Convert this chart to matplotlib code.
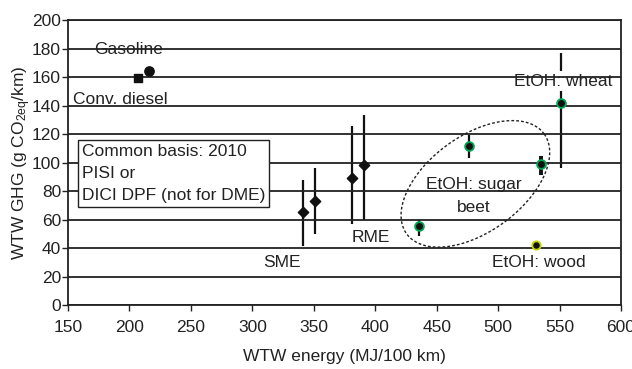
import numpy as np
import matplotlib.pyplot as plt

plt.rcParams['font.family'] = ['Liberation Sans', 'DejaVu Sans']

# diesel / gasoline references
ref_x = [207, 216]
ref_y = [159, 164]

# FAME (SME, RME)
fame_x = [341, 351, 381, 391]
fame_y = [65, 73, 89, 98.5]
fame_lo = [41.5, 50, 57, 60]
fame_hi = [88, 96, 125.5, 133.5]

# ethanol (sugar beet, wheat)
etoh_x = [435.5, 476, 534.5, 551]
etoh_y = [55.5, 111.5, 99, 142]
etoh_lo = [48.5, 103.5, 91, 96]
etoh_hi = [60, 119, 104.5, 177]

wood_x = [530.5]
wood_y = [42]

xticks = np.arange(150, 601, 50)
yticks = np.arange(0, 201, 20)

fig = plt.figure(figsize=(6.32, 3.69), dpi=100)
ax = fig.add_axes([0.1076, 0.1734, 0.875, 0.7724])
ax.set_xlim(150, 600)
ax.set_ylim(0, 200)
ax.set_xticks(xticks)
ax.set_yticks(yticks)
ax.set_axisbelow(False)
ax.yaxis.grid(True, color='#222222', lw=1.3)
for gl in ax.yaxis.get_gridlines():
    gl.set_zorder(2.5)
for s in ax.spines.values():
    s.set_color('#222222')
    s.set_linewidth(1.3)
fs = 12.5
ax.tick_params(direction='out', length=4, width=1, labelsize=fs,
               colors='#222222')
ax.tick_params(axis='y', pad=1)
ax.tick_params(axis='x', pad=7)

ax.scatter(ref_x[:1], ref_y[:1], marker='s', s=40, color='#111111', zorder=4)
ax.scatter(ref_x[1:], ref_y[1:], marker='o', s=45, color='#111111', zorder=4)

ax.vlines(fame_x, fame_lo, fame_hi, color='#111111', lw=1.6, zorder=1)
ax.scatter(fame_x, fame_y, marker='D', s=28, color='#111111', zorder=4)

lw_bars = [1.6, 1.6, 2.8, 1.6]
ax.vlines(etoh_x, etoh_lo, etoh_hi, color='#111111', lw=lw_bars, zorder=1)
ax.scatter(etoh_x, etoh_y, marker='o', s=40, color='#111111',
           edgecolors='#00a651', linewidths=1.3, zorder=4)
ax.scatter(wood_x, wood_y, marker='o', s=36, color='#111111',
           edgecolors='#c4d600', linewidths=1.3, zorder=4)

# dashed ellipse round the sugar beet points (drawn in pixel space)
ppx = 0.875 * 632 / 450.0
ppy = 0.7724 * 369 / 200.0
t = np.linspace(0, 2 * np.pi, 300)
a, b, th = 85, 48, np.radians(36)
ex = 481.5 + (a * np.cos(th) * np.cos(t) - b * np.sin(th) * np.sin(t)) / ppx
ey = 85 + (a * np.sin(th) * np.cos(t) + b * np.cos(th) * np.sin(t)) / ppy
ax.plot(ex, ey, ls=(0, (2, 1.5)), color='#222222', lw=1, zorder=3)

ax.text(199, 179, 'Gasoline', ha='center', va='center', fontsize=fs, color='#222222')
ax.text(154, 144.5, 'Conv. diesel', ha='left', va='center', fontsize=fs, color='#222222')
ax.text(324, 29.5, 'SME', ha='center', va='center', fontsize=fs, color='#222222')
ax.text(396.5, 47.5, 'RME', ha='center', va='center', fontsize=fs, color='#222222')
ax.text(480, 76.5, 'EtOH: sugar\nbeet', ha='center', va='center', fontsize=fs,
        color='#222222', linespacing=1.7)
ax.text(533, 30, 'EtOH: wood', ha='center', va='center', fontsize=fs, color='#222222')
ax.text(553, 157, 'EtOH: wheat', ha='center', va='center', fontsize=fs,
        color='#222222', zorder=2,
        bbox=dict(boxstyle='square,pad=0.15', fc='white', ec='none'))
ax.text(161, 113, 'Common basis: 2010\nPISI or\nDICI DPF (not for DME)',
        ha='left', va='top', fontsize=fs, color='#222222', zorder=5,
        linespacing=1.58,
        bbox=dict(boxstyle='square,pad=0.22', fc='white', ec='#222222', lw=1))

ax.set_xlabel('WTW energy (MJ/100 km)', fontsize=fs, color='#222222', labelpad=10)
ax.set_ylabel('WTW GHG (g CO$\\mathregular{_{2eq}}$/km)', fontsize=fs,
              color='#222222', labelpad=-1)

fig.savefig('out.png', dpi=100)
